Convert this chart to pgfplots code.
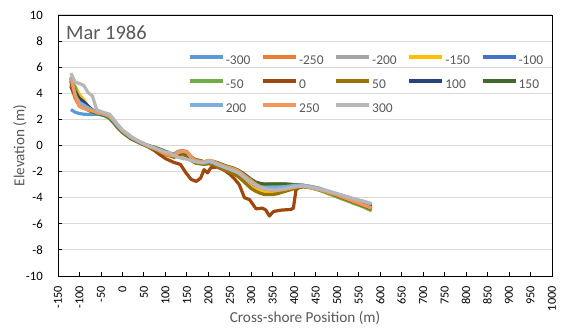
\documentclass[border=0pt]{standalone}
\usepackage{fontspec}
\setmainfont{Carlito}
\usepackage{pgfplots}
\usepackage{pgfplotstable}
\pgfplotsset{compat=1.18}

\definecolor{sA}{HTML}{5B9BD5}
\definecolor{sB}{HTML}{ED7D31}
\definecolor{sC}{HTML}{A5A5A5}
\definecolor{sD}{HTML}{FFC000}
\definecolor{sE}{HTML}{4472C4}
\definecolor{sF}{HTML}{70AD47}
\definecolor{sG}{HTML}{9E480E}
\definecolor{sH}{HTML}{997300}
\definecolor{sI}{HTML}{264478}
\definecolor{sJ}{HTML}{43682B}
\definecolor{sK}{HTML}{7CAFDD}
\definecolor{sL}{HTML}{F1975A}
\definecolor{sM}{HTML}{B7B7B7}
\definecolor{gridgray}{HTML}{D9D9D9}
\definecolor{txtgray}{HTML}{595959}

% Beach profiles, March 1986: elevation (m) against cross-shore position (m),
% one column per alongshore line
\pgfplotstableread{
x    m300  m250  m200  m150  m100  m50   p50   p100  p150  p200  p250  p300
-120 2.75  4.6   5.2   4.9   5.1   4.8   4.7   5.0   4.9   5.3   5.2   5.55
-110 2.55  3.6   4.4   4.5   4.0   4.5   4.0   4.1   3.9   3.8   3.9   4.85
-100 2.45  3.0   3.7   3.9   3.5   3.3   3.4   3.6   3.3   3.3   3.0   4.75
-90  2.4   2.85  3.3   3.5   3.3   2.9   3.1   3.35  3.0   3.1   2.85  4.6
-80  2.38  2.8   3.0   3.0   3.0   2.7   2.85  3.0   2.8   2.9   2.75  4.05
-70  2.38  2.7   2.75  2.7   2.7   2.55  2.65  2.7   2.6   2.7   2.65  3.8
-60  2.4   2.55  2.55  2.5   2.5   2.45  2.5   2.55  2.45  2.5   2.55  2.75
-50  2.42  2.5   2.45  2.45  2.4   2.35  2.4   2.45  2.4   2.45  2.5   2.6
-40  2.38  2.4   2.35  2.35  2.35  2.25  2.3   2.4   2.3   2.35  2.4   2.5
-30  2.25  2.25  2.2   2.2   2.2   2.05  2.15  2.25  2.15  2.2   2.25  2.4
-20  1.9   1.9   1.85  1.85  1.85  1.7   1.75  1.85  1.8   1.85  1.95  2.0
-10  1.45  1.5   1.45  1.4   1.45  1.3   1.35  1.45  1.4   1.45  1.55  1.55
0    1.1   1.1   1.1   1.05  1.1   1.0   1.0   1.1   1.05  1.1   1.15  1.2
20   0.6   0.6   0.6   0.55  0.6   0.55  0.5   0.6   0.55  0.6   0.65  0.7
40   0.25  0.25  0.25  0.2   0.25  0.25  0.2   0.25  0.25  0.25  0.3   0.3
60   -0.05 -0.1  -0.05 -0.05 -0.05 0.0   -0.1  -0.05 0.0   -0.05 -0.05 0.0
80   -0.3  -0.4  -0.3  -0.25 -0.25 -0.2  -0.35 -0.3  -0.2  -0.3  -0.3  -0.25
100  -0.6  -0.65 -0.6  -0.5  -0.55 -0.45 -0.7  -0.55 -0.45 -0.6  -0.65 -0.5
110  -0.65 -0.7  -0.75 -0.6  -0.65 -0.55 -0.8  -0.65 -0.6  -0.7  -0.75 -0.55
120  -0.65 -0.65 -0.85 -0.7  -0.75 -0.7  -0.9  -0.75 -0.7  -0.75 -0.8  -0.75
130  -0.45 -0.45 -0.7  -0.5  -0.55 -0.65 -0.8  -0.6  -0.6  -0.5  -0.55 -0.9
140  -0.4  -0.4  -0.6  -0.45 -0.5  -0.55 -0.7  -0.5  -0.5  -0.45 -0.45 -1.0
150  -0.5  -0.45 -0.75 -0.6  -0.6  -0.65 -0.8  -0.6  -0.6  -0.5  -0.5  -1.05
160  -0.95 -0.85 -1.1  -1.0  -1.0  -0.9  -1.15 -0.95 -0.9  -0.95 -0.9  -1.15
170  -1.2  -1.1  -1.3  -1.25 -1.2  -1.1  -1.35 -1.2  -1.1  -1.2  -1.15 -1.25
180  -1.3  -1.2  -1.35 -1.3  -1.25 -1.15 -1.4  -1.25 -1.15 -1.3  -1.2  -1.3
190  -1.35 -1.25 -1.4  -1.4  -1.3  -1.25 -1.45 -1.3  -1.25 -1.35 -1.25 -1.3
200  -1.25 -1.2  -1.3  -1.35 -1.25 -1.2  -1.4  -1.25 -1.2  -1.25 -1.15 -1.2
210  -1.3  -1.25 -1.35 -1.45 -1.3  -1.25 -1.45 -1.3  -1.2  -1.3  -1.2  -1.25
220  -1.45 -1.35 -1.5  -1.6  -1.45 -1.35 -1.6  -1.45 -1.3  -1.45 -1.35 -1.45
240  -1.7  -1.6  -1.75 -1.85 -1.65 -1.6  -1.9  -1.7  -1.55 -1.7  -1.6  -1.7
260  -1.95 -1.85 -2.0  -2.15 -1.9  -1.8  -2.2  -1.95 -1.75 -1.95 -1.8  -1.95
270  -2.1  -2.0  -2.15 -2.35 -2.05 -1.95 -2.4  -2.1  -1.9  -2.1  -1.95 -2.1
280  -2.4  -2.2  -2.4  -2.6  -2.3  -2.15 -2.7  -2.35 -2.1  -2.35 -2.2  -2.35
290  -2.65 -2.45 -2.65 -2.9  -2.55 -2.4  -3.0  -2.6  -2.35 -2.6  -2.45 -2.6
300  -2.9  -2.7  -2.9  -3.15 -2.8  -2.65 -3.3  -2.85 -2.6  -2.85 -2.7  -2.85
310  -3.05 -2.95 -3.1  -3.35 -3.0  -2.85 -3.5  -3.05 -2.8  -3.0  -2.95 -3.05
320  -3.15 -3.15 -3.25 -3.5  -3.1  -2.95 -3.65 -3.15 -2.9  -3.15 -3.15 -3.2
330  -3.2  -3.3  -3.35 -3.6  -3.2  -3.0  -3.75 -3.2  -2.95 -3.2  -3.3  -3.3
340  -3.2  -3.35 -3.4  -3.65 -3.2  -2.95 -3.75 -3.2  -2.95 -3.2  -3.4  -3.35
350  -3.2  -3.4  -3.45 -3.65 -3.25 -2.95 -3.75 -3.25 -2.95 -3.2  -3.45 -3.4
360  -3.2  -3.4  -3.45 -3.6  -3.25 -2.95 -3.7  -3.25 -2.95 -3.2  -3.45 -3.4
380  -3.15 -3.3  -3.35 -3.45 -3.2  -2.95 -3.5  -3.2  -2.95 -3.15 -3.35 -3.3
400  -3.05 -3.15 -3.2  -3.25 -3.1  -3.0  -3.3  -3.1  -3.0  -3.05 -3.2  -3.15
420  -3.05 -3.1  -3.1  -3.15 -3.1  -3.1  -3.15 -3.1  -3.05 -3.05 -3.1  -3.1
440  -3.2  -3.2  -3.2  -3.25 -3.2  -3.25 -3.25 -3.2  -3.15 -3.15 -3.25 -3.2
460  -3.35 -3.4  -3.35 -3.4  -3.35 -3.45 -3.4  -3.35 -3.3  -3.3  -3.4  -3.35
480  -3.55 -3.6  -3.55 -3.6  -3.55 -3.7  -3.6  -3.55 -3.55 -3.5  -3.6  -3.5
500  -3.75 -3.8  -3.75 -3.8  -3.75 -3.95 -3.8  -3.75 -3.8  -3.7  -3.8  -3.7
520  -3.95 -4.05 -3.95 -4.0  -3.95 -4.2  -4.0  -3.95 -4.0  -3.9  -4.05 -3.9
540  -4.15 -4.3  -4.15 -4.2  -4.15 -4.45 -4.25 -4.15 -4.25 -4.1  -4.3  -4.1
560  -4.35 -4.55 -4.35 -4.45 -4.4  -4.7  -4.5  -4.4  -4.5  -4.3  -4.55 -4.25
580  -4.55 -4.85 -4.55 -4.7  -4.65 -5.0  -4.75 -4.65 -4.8  -4.5  -4.8  -4.45
}\profiles

% Line 0 has its own, finer sampling (two deep troughs)
\pgfplotstableread{
x    z
-120 4.5
-110 3.8
-100 3.2
-90  3.0
-80  2.8
-70  2.6
-60  2.5
-50  2.4
-40  2.3
-30  2.15
-20  1.8
-10  1.4
0    1.05
20   0.55
40   0.2
60   -0.1
75   -0.4
85   -0.65
100  -1.0
110  -1.15
120  -1.3
135  -1.45
148  -2.1
160  -2.6
172  -2.75
182  -2.5
190  -1.85
198  -2.1
206  -1.7
220  -1.65
235  -1.85
250  -2.2
262  -2.6
272  -3.0
284  -4.0
296  -4.15
311  -4.85
326  -4.8
334  -4.95
342  -5.4
352  -5.05
370  -4.95
392  -4.9
398  -4.8
404  -3.4
412  -3.2
420  -3.15
440  -3.2
460  -3.4
480  -3.6
500  -3.85
520  -4.1
540  -4.35
560  -4.6
580  -4.85
}\profileZero

\newcommand\lgd[1]{\makebox[34bp][l]{#1}}

\begin{document}
\begin{tikzpicture}
\begin{axis}[
  scale only axis, width=494bp, height=261bp,
  xmin=-150, xmax=1000, ymin=-10, ymax=10,
  xtick={-150,-100,...,1000}, ytick={-10,-8,...,10},
  tick pos=left, tick align=inside, major tick length=4bp,
  axis line style={black, line width=0.9bp},
  tick style={black, line width=0.9bp},
  ymajorgrids, grid style={gridgray, line width=1bp},
  /pgf/number format/assume math mode=true,
  /pgf/number format/1000 sep={},
  xticklabel style={rotate=90, anchor=east, inner sep=0pt, font=\fontsize{12.3}{12.3}\selectfont},
  xticklabel shift=10bp,
  yticklabel style={anchor=east, inner sep=0pt, font=\fontsize{12.8}{12.8}\selectfont},
  yticklabel shift=15bp,
  xlabel={Cross-shore Position (m)}, ylabel={Elevation (m)},
  label style={font=\fontsize{15.3}{16}\selectfont, text=txtgray},
  xlabel style={at={(axis description cs:0.5,-0.161)}, anchor=center},
  ylabel style={at={(axis description cs:-0.077,0.5)}, anchor=center},
  legend columns=5,
  legend cell align=left,
  legend style={at={(axis description cs:0.263,0.846)}, anchor=north west,
    draw=none, fill=none, inner sep=0pt, column sep=0pt, row sep=12bp,
    font=\fontsize{13.5}{14}\selectfont, text=txtgray,
    nodes={inner xsep=1.5bp, inner ysep=0pt, text height=9bp, text depth=3bp}},
  legend image code/.code={\draw[#1, line cap=butt] (0bp,4.3bp) -- (33bp,4.3bp);},
  prof/.style={line width=3.2bp, line join=round, no markers},
]
\addplot[prof, sA] table[x=x, y=m300] {\profiles};
\addlegendentry{\lgd{-300}}
\addplot[prof, sB] table[x=x, y=m250] {\profiles};
\addlegendentry{\lgd{-250}}
\addplot[prof, sC] table[x=x, y=m200] {\profiles};
\addlegendentry{\lgd{-200}}
\addplot[prof, sD] table[x=x, y=m150] {\profiles};
\addlegendentry{\lgd{-150}}
\addplot[prof, sE] table[x=x, y=m100] {\profiles};
\addlegendentry{\lgd{-100}}
\addplot[prof, sF] table[x=x, y=m50] {\profiles};
\addlegendentry{\lgd{-50}}
\addplot[prof, sG] table[x=x, y=z] {\profileZero};
\addlegendentry{\lgd{0}}
\addplot[prof, sH] table[x=x, y=p50] {\profiles};
\addlegendentry{\lgd{50}}
\addplot[prof, sI] table[x=x, y=p100] {\profiles};
\addlegendentry{\lgd{100}}
\addplot[prof, sJ] table[x=x, y=p150] {\profiles};
\addlegendentry{\lgd{150}}
\addplot[prof, sK] table[x=x, y=p200] {\profiles};
\addlegendentry{\lgd{200}}
\addplot[prof, sL] table[x=x, y=p250] {\profiles};
\addlegendentry{\lgd{250}}
\addplot[prof, sM] table[x=x, y=p300] {\profiles};
\addlegendentry{\lgd{300}}

\node[anchor=north west, inner sep=0pt, xshift=8bp, yshift=-10bp,
  font=\fontsize{20.5}{20.5}\selectfont, text=txtgray] at (rel axis cs:0,1) {Mar 1986};
\end{axis}
\pgfresetboundingbox
\path[use as bounding box] ([xshift=-58bp,yshift=-53bp]current axis.south west)
  rectangle ([xshift=12bp,yshift=15bp]current axis.north east);
\end{tikzpicture}
\end{document}
